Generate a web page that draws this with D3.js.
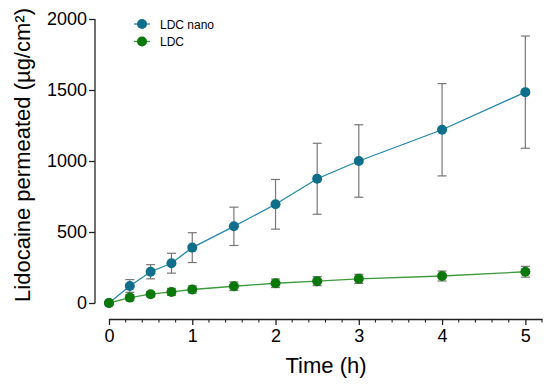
<!DOCTYPE html>
<html>
<head>
<meta charset="utf-8">
<script src="https://cdn.jsdelivr.net/npm/d3@7"></script>
<style>
  body { margin: 0; background: #fff; }
  text { font-family: "Liberation Sans", Arial, sans-serif; }
</style>
</head>
<body>
<div id="chart-area"></div>
<script>
//============================DATA============================
var times = [0, 0.25, 0.5, 0.75, 1, 1.5, 2, 2.5, 3, 4, 5];
var nanoMean = [0, 120, 220, 280, 390, 540, 695, 875, 1000, 1220, 1485];
var nanoSd = [0, 45, 50, 70, 105, 135, 175, 250, 255, 325, 395];
var ldcMean = [0, 38, 62, 78, 95, 118, 139, 154, 170, 190, 220];
var ldcSd = [0, 20, 18, 25, 25, 30, 30, 32, 32, 35, 38];
var xTicks = [0, 1, 2, 3, 4, 5];
var yTicks = [0, 500, 1000, 1500, 2000];
var seriesNames = ["LDC nano", "LDC"];

var series = [
    { name: seriesNames[0], mean: nanoMean, sd: nanoSd, fill: "#0f6e8a", line: "#2487ad" },
    { name: seriesNames[1], mean: ldcMean, sd: ldcSd, fill: "#0b780b", line: "#3c9b3c" }
];

//============================SETUP============================
var svg = d3.select("#chart-area")
    .append("svg")
    .attr("width", 550)
    .attr("height", 384);

var x = d3.scaleLinear().domain([0, 5.2]).range([109, 542]);
var y = d3.scaleLinear().domain([0, 2000]).range([303, 19]);

// y axis (offset to the left, GraphPad style)
var yAxis = svg.append("g")
    .attr("transform", "translate(95,0)")
    .call(d3.axisLeft(y).tickValues(yTicks).tickFormat(d3.format("d")).tickSize(6).tickSizeOuter(0).tickPadding(2));
yAxis.select(".domain").attr("d", "M0," + y(2000) + "V" + (y(0) + 0.5));
yAxis.selectAll("text").attr("font-size", "18px").attr("fill", "#000");
yAxis.selectAll("line, path").attr("stroke", "#222").attr("stroke-width", 1.3);

// x axis
var xAxis = svg.append("g")
    .attr("transform", "translate(0,319)")
    .call(d3.axisBottom(x).tickValues(xTicks).tickFormat(d3.format("d")).tickSize(6).tickSizeOuter(0).tickPadding(4));
xAxis.selectAll("text").attr("font-size", "18px").attr("fill", "#000");
xAxis.selectAll("line, path").attr("stroke", "#222").attr("stroke-width", 1.3);
// minor ticks every 0.2
xAxis.selectAll(".minor")
    .data(d3.range(1, 27).map(function(i){ return i * 0.2; }).filter(function(v){ return Math.abs(v - Math.round(v)) > 0.01; }))
    .enter().append("line")
    .attr("class", "minor")
    .attr("x1", function(d){ return x(d); })
    .attr("x2", function(d){ return x(d); })
    .attr("y1", 0).attr("y2", 3.5)
    .attr("stroke", "#222").attr("stroke-width", 1.1);

// axis labels
svg.append("text")
    .attr("x", 326)
    .attr("y", 373)
    .attr("text-anchor", "middle")
    .attr("font-size", "22px")
    .text("Time (h)");

svg.append("text")
    .attr("transform", "translate(30," + 155 + ") rotate(-90)")
    .attr("text-anchor", "middle")
    .attr("font-size", "22px")
    .text("Lidocaine permeated (\u00b5g/cm\u00b2)");

//============================SERIES============================
series.forEach(function(s){
    var pts = times.map(function(t, i){ return { t: t, m: s.mean[i], sd: s.sd[i] }; });
    var g = svg.append("g");

    // error bars
    var eb = g.selectAll(".err").data(pts.filter(function(d){ return d.sd > 0; })).enter().append("g");
    eb.append("line")
        .attr("x1", function(d){ return x(d.t); }).attr("x2", function(d){ return x(d.t); })
        .attr("y1", function(d){ return y(d.m + d.sd); }).attr("y2", function(d){ return y(d.m - d.sd); });
    eb.append("line")
        .attr("x1", function(d){ return x(d.t) - 4.5; }).attr("x2", function(d){ return x(d.t) + 4.5; })
        .attr("y1", function(d){ return y(d.m + d.sd); }).attr("y2", function(d){ return y(d.m + d.sd); });
    eb.append("line")
        .attr("x1", function(d){ return x(d.t) - 4.5; }).attr("x2", function(d){ return x(d.t) + 4.5; })
        .attr("y1", function(d){ return y(d.m - d.sd); }).attr("y2", function(d){ return y(d.m - d.sd); });
    eb.selectAll("line").attr("stroke", "#777").attr("stroke-width", 1.2);

    g.append("path")
        .datum(pts)
        .attr("fill", "none")
        .attr("stroke", s.line)
        .attr("stroke-width", 1.3)
        .attr("d", d3.line().x(function(d){ return x(d.t); }).y(function(d){ return y(d.m); }));

    g.selectAll("circle").data(pts).enter().append("circle")
        .attr("cx", function(d){ return x(d.t); })
        .attr("cy", function(d){ return y(d.m); })
        .attr("r", 5)
        .attr("fill", s.fill);
});

//============================LEGEND============================
var legend = svg.append("g").selectAll("g").data(series).enter().append("g")
    .attr("transform", function(d, i){ return "translate(142," + (24 + i * 17.5) + ")"; });
legend.append("line")
    .attr("x1", -8).attr("x2", 8).attr("y1", 0).attr("y2", 0)
    .attr("stroke", function(d){ return d.line; }).attr("stroke-width", 1.3);
legend.append("circle").attr("r", 5).attr("fill", function(d){ return d.fill; });
legend.append("text")
    .attr("x", 18).attr("y", 4.5)
    .attr("font-size", "12px")
    .text(function(d){ return d.name; });
</script>
</body>
</html>
